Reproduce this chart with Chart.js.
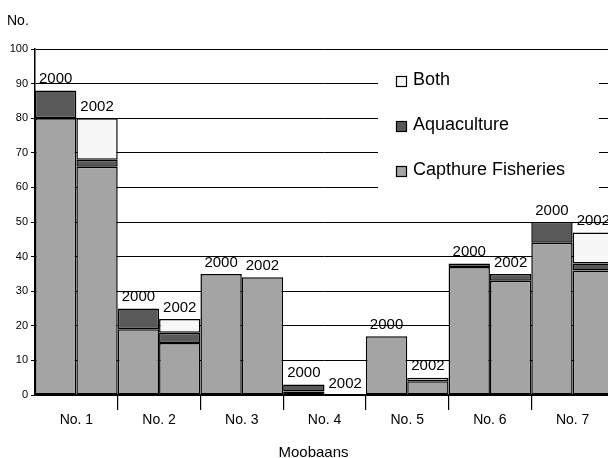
<!DOCTYPE html>
<html>
<head>
<meta charset="utf-8">
<script src="https://cdn.jsdelivr.net/npm/chart.js@4/dist/chart.umd.min.js"></script>
<style>
  html, body { margin: 0; padding: 0; background: #fff; overflow: hidden; }
  #wrap { width: 608px; height: 458px; overflow: hidden; position: relative; }
  canvas { display: block; }
</style>
</head>
<body>
<div id="wrap"><canvas id="c" width="624" height="458"></canvas></div>
<script>
// Moobaans (villages) and survey years
const categories = ['No. 1', 'No. 2', 'No. 3', 'No. 4', 'No. 5', 'No. 6', 'No. 7'];
const years = ['2000', '2002'];

// Number of households by activity, survey year 2000
const capture2000 = [80, 19, 35, 1, 17, 37, 44];
const aqua2000    = [8, 6, 0, 2, 0, 1, 6];
const both2000    = [0, 0, 0, 0, 0, 0, 0];

// Number of households by activity, survey year 2002
const capture2002 = [66, 15, 34, 0, 4, 33, 36];
const aqua2002    = [2, 3, 0, 0, 0, 2, 2];
const both2002    = [12, 4, 0, 0, 1, 0, 9];

// Series names and fills
const seriesNames  = ['Capthure Fisheries', 'Aquaculture', 'Both'];
const seriesColors = ['#a4a4a4', '#595959', '#f7f7f7'];

// Value axis
const yMin = 0, yMax = 100, yStep = 10;

const FONT = "'Liberation Sans', Arial, sans-serif";
Chart.defaults.font.family = FONT;
Chart.defaults.color = '#000';

function barSet(label, data, colorIdx, stack) {
  return {
    label, data, stack,
    backgroundColor: seriesColors[colorIdx],
    borderColor: '#000',
    borderWidth: 1.5,
    borderSkipped: false,
    inflateAmount: 0,
    categoryPercentage: 1.0,
    barPercentage: 1.0
  };
}

const datasets = [
  barSet(seriesNames[0], capture2000, 0, years[0]),
  barSet(seriesNames[1], aqua2000, 1, years[0]),
  barSet(seriesNames[2], both2000, 2, years[0]),
  barSet(seriesNames[0], capture2002, 0, years[1]),
  barSet(seriesNames[1], aqua2002, 1, years[1]),
  barSet(seriesNames[2], both2002, 2, years[1])
];

// Year labels above each stacked bar
const yearLabels = {
  id: 'yearLabels',
  afterDatasetsDraw(chart) {
    const ctx = chart.ctx;
    ctx.save();
    ctx.font = '15px ' + FONT;
    ctx.fillStyle = '#000';
    ctx.textAlign = 'center';
    ctx.textBaseline = 'bottom';
    [2, 5].forEach((dsIndex, k) => {
      chart.getDatasetMeta(dsIndex).data.forEach(el => {
        ctx.fillText(years[k], el.x, el.y - 4);
      });
    });
    ctx.restore();
  }
};

// Legend box inside the plot, plus the axis captions
const extras = {
  id: 'extras',
  afterDraw(chart) {
    const ctx = chart.ctx;
    ctx.save();
    // legend
    ctx.fillStyle = '#fff';
    ctx.fillRect(378, 58, 221, 142);
    const order = [2, 1, 0];
    ctx.font = '18px ' + FONT;
    ctx.textAlign = 'left';
    ctx.textBaseline = 'alphabetic';
    order.forEach((s, i) => {
      const base = 85 + i * 45;
      ctx.fillStyle = seriesColors[s];
      ctx.fillRect(396.5, base - 8.5, 10, 10);
      ctx.strokeStyle = '#000';
      ctx.lineWidth = 1.2;
      ctx.strokeRect(396.5, base - 8.5, 10, 10);
      ctx.fillStyle = '#000';
      ctx.fillText(seriesNames[s], 413, base);
    });
    // y unit caption
    ctx.font = '14px ' + FONT;
    ctx.fillText('No.', 7, 25);
    // x axis caption
    ctx.font = '15px ' + FONT;
    ctx.textAlign = 'center';
    ctx.fillText('Moobaans', 313.5, 457);
    ctx.restore();
  }
};

new Chart(document.getElementById('c'), {
  type: 'bar',
  data: { labels: categories, datasets },
  options: {
    responsive: false,
    animation: false,
    events: [],
    layout: { padding: { top: 49, right: 10, left: 0, bottom: 0 } },
    plugins: {
      legend: { display: false },
      tooltip: { enabled: false },
      title: { display: false }
    },
    scales: {
      x: {
        stacked: true,
        offset: true,
        grid: {
          offset: true,
          drawOnChartArea: false,
          drawTicks: true,
          tickLength: 15,
          color: ctx => (ctx.index === 0 ? 'rgba(0,0,0,0)' : '#000'),
          lineWidth: 1.2
        },
        border: { display: true, color: '#000', width: 1.5 },
        ticks: { font: { size: 14 }, color: '#000', padding: 2, maxRotation: 0, autoSkip: false },
        afterFit(scale) { scale.height = 63; }
      },
      y: {
        stacked: true,
        min: yMin,
        max: yMax,
        grid: {
          drawOnChartArea: true,
          drawTicks: true,
          tickLength: 4,
          color: '#000',
          lineWidth: 1
        },
        border: { display: true, color: '#000', width: 1.5 },
        ticks: { stepSize: yStep, font: { size: 11 }, color: '#000', padding: 3 },
        afterFit(scale) { scale.width = 35; }
      }
    }
  },
  plugins: [yearLabels, extras]
});
</script>
</body>
</html>
